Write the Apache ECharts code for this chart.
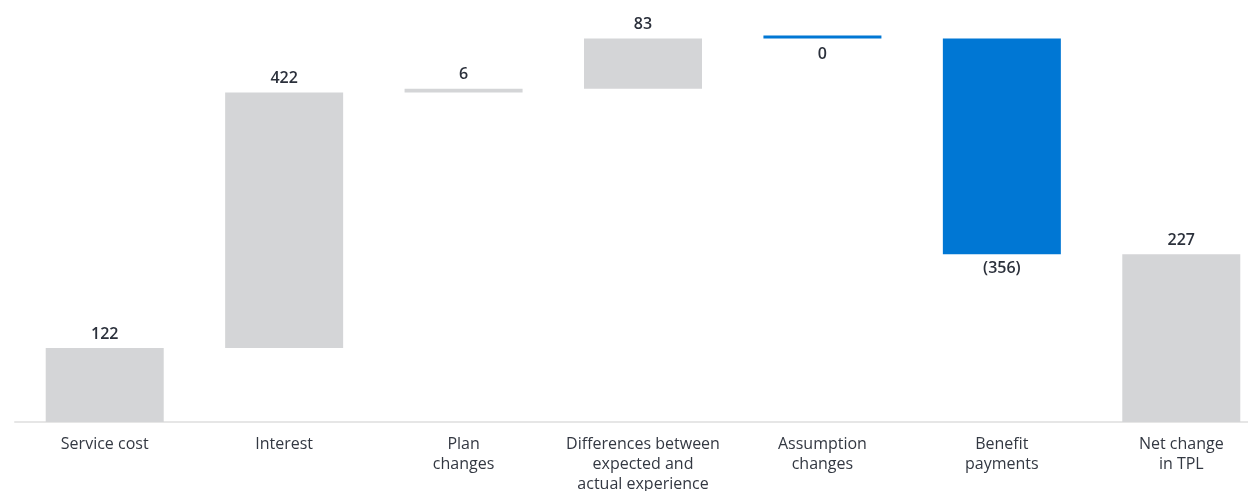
<!DOCTYPE html>
<html>
<head>
<meta charset="utf-8">
<script src="https://cdn.jsdelivr.net/npm/echarts@6/dist/echarts.min.js"></script>
<style>
html, body { margin: 0; padding: 0; background: #fff; }
#main { width: 1248px; height: 491px; }
</style>
</head>
<body>
<div id="main"></div>
<script>
var categories = ['Service cost', 'Interest', 'Plan\nchanges', 'Differences between\nexpected and\nactual experience', 'Assumption\nchanges', 'Benefit\npayments', 'Net change\nin TPL'];
// changes for each step; last item is the total
var changes = [122, 422, 6, 83, 0, -356];
var valueLabels = ['122', '422', '6', '83', '0', '(356)', '227'];

var GREY = '#d4d5d7';
var BLUE = '#0077d4';

// 计算瀑布图的底座和高度
var bases = [];
var heights = [];
var running = 0;
changes.forEach(function (v) {
    if (v >= 0) {
        bases.push(running);
        heights.push(v);
    } else {
        bases.push(running + v);
        heights.push(-v);
    }
    running += v;
});
bases.push(0);
heights.push(running);

var barData = heights.map(function (h, i) {
    var isDecrease = i < changes.length && changes[i] < 0;
    var isFlat = i < changes.length && changes[i] === 0;
    return {
        value: h,
        itemStyle: { color: (isDecrease || isFlat) ? BLUE : GREY },
        label: {
            position: (isDecrease || isFlat) ? 'bottom' : 'top',
            distance: isFlat ? 8 : 6,
            formatter: valueLabels[i]
        }
    };
});

var myChart = echarts.init(document.getElementById('main'));

var option = {
    animation: false,
    grid: {
        left: 15,
        top: -2,
        right: -23,
        bottom: 69,
        containLabel: false,
        outerBoundsMode: 'none'
    },
    xAxis: {
        type: 'category',
        data: categories,
        axisLine: { lineStyle: { color: '#e6e6e6', width: 2 } },
        axisTick: { show: false },
        axisLabel: {
            interval: 0,
            margin: 12,
            fontSize: 16,
            lineHeight: 20,
            color: '#333842',
            fontFamily: 'Open Sans'
        }
    },
    yAxis: {
        type: 'value',
        min: 0,
        max: 700,
        show: false,
        splitLine: { show: false }
    },
    series: [
        {
            type: 'bar',
            stack: 'w',
            barWidth: 118,
            itemStyle: { color: 'transparent' },
            emphasis: { disabled: true },
            data: bases
        },
        {
            type: 'bar',
            stack: 'w',
            barWidth: 118,
            barMinHeight: 3,
            label: {
                show: true,
                fontSize: 16,
                fontWeight: 600,
                color: '#2b303b',
                fontFamily: 'Open Sans'
            },
            data: barData
        }
    ]
};

myChart.setOption(option);
</script>
</body>
</html>
